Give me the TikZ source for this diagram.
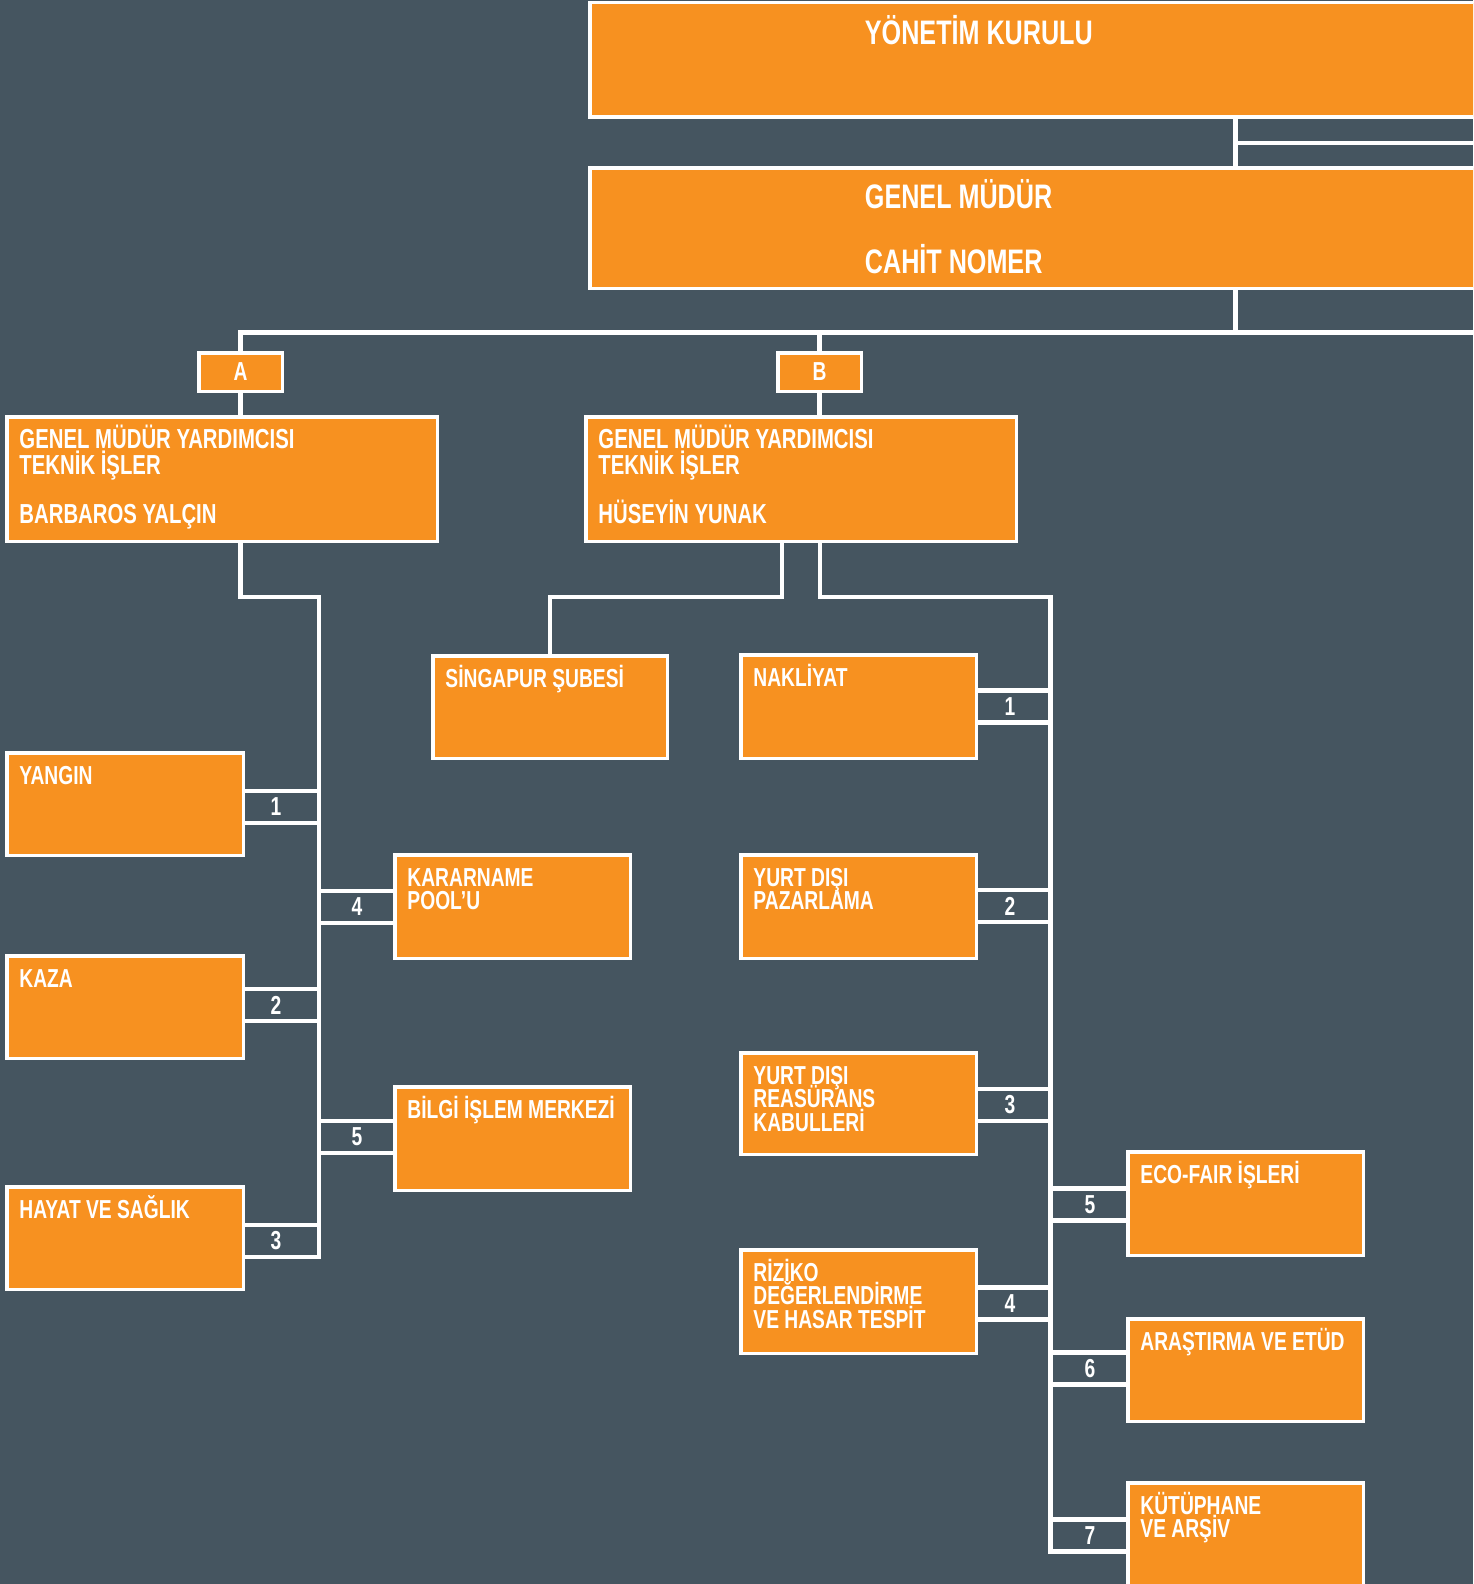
\documentclass[tikz,border=0pt]{standalone}
\usepackage{fontspec}
\newfontfamily\condf{Liberation Sans}[FakeStretch=0.74]
\definecolor{bgc}{RGB}{69,85,96}
\definecolor{org}{RGB}{247,145,32}
\pgfdeclarelayer{bgl}
\pgfdeclarelayer{lines}
\pgfsetlayers{bgl,lines,main}
\newcommand\mkbox[5]{\node[box, minimum width={#4-#2-3.5}, minimum height={#5-#3-3.5}] (#1) at ({(#2+#4)/2},{(#3+#5)/2}) {};}
\newcommand\tightpar[1]{\parbox[t]{420pt}{\lineskiplimit=-100pt\lineskip=0pt\raggedright #1}}
\newcommand\boxtxt[2]{\node[lbl] (#1-t) at ([shift={(12.5,31.5)}]#1.north west) {\tightpar{#2}};}
\newcommand\brk[6]{%
  \coordinate (#1-u) at (0,{#4-16});
  \coordinate (#1-d) at (0,{#4+16});
  \begin{pgfonlayer}{lines}
  \draw[conn] (#2 |- #1-u) -- (#3 |- #1-u);
  \draw[conn] (#2 |- #1-d) -- (#3 |- #1-d);
  \end{pgfonlayer}
  \node[num] (#1-n) at (#5,#4) {#6};}
\begin{document}
\begin{tikzpicture}[x=1pt,y=-1pt,
  box/.style={draw=white, fill=org, line width=3.5pt, inner sep=0pt, outer sep=0pt},
  conn/.style={draw=white, line width=4.5pt, line cap=rect},
  lbl/.style={text=white, inner sep=0pt, anchor=base west, font=\condf\bfseries\fontsize{26}{23.5}\selectfont},
  glbl/.style={lbl, font=\condf\bfseries\fontsize{27.5}{26.7}\selectfont},
  tlbl/.style={lbl, font=\condf\bfseries\fontsize{34}{34}\selectfont},
  num/.style={text=white, inner sep=0pt, font=\condf\bfseries\fontsize{26}{26}\selectfont},
]
\begin{pgfonlayer}{bgl}
\fill[bgc] (0,0) rectangle (1473,1584);
\end{pgfonlayer}
\useasboundingbox (0,0) rectangle (1473,1584);
\clip (0,0) rectangle (1473,1584);

% boxes
\mkbox{yk}{588}{1}{1500}{119}
\mkbox{gm}{588}{166}{1500}{290}
\mkbox{A}{197}{351}{284}{393}
\mkbox{B}{776}{351}{863}{393}
\mkbox{gmyA}{5}{415}{439}{543}
\mkbox{gmyB}{584}{415}{1018}{543}
\mkbox{sing}{431}{654}{669}{760}
\mkbox{nak}{739}{653}{978}{760}
\mkbox{yurt}{739}{853}{978}{960}
\mkbox{reas}{739}{1051}{978}{1156}
\mkbox{riz}{739}{1248}{978}{1355}
\mkbox{eco}{1126}{1150}{1365}{1257}
\mkbox{aras}{1126}{1317}{1365}{1423}
\mkbox{kut}{1126}{1481}{1365}{1595}
\mkbox{yan}{5}{751}{245}{857}
\mkbox{kaza}{5}{954}{245}{1060}
\mkbox{hay}{5}{1185}{245}{1291}
\mkbox{kar}{393}{853}{632}{960}
\mkbox{bil}{393}{1085}{632}{1192}

% texts
\node[tlbl] (yk-t) at ([shift={(275,42)}]yk.north west) {YÖNETİM KURULU};
\node[tlbl] (gm-t) at ([shift={(275,40.5)}]gm.north west) {\tightpar{GENEL MÜDÜR\\[31pt]CAHİT NOMER}};
\node[num] (A-t) at (A) {A};
\node[num] (B-t) at (B) {B};
\node[glbl] (gmyA-t) at ([shift={(12.5,31.5)}]gmyA.north west) {\tightpar{GENEL MÜDÜR YARDIMCISI\\TEKNİK İŞLER\\[22pt]BARBAROS YALÇIN}};
\node[glbl] (gmyB-t) at ([shift={(12.5,31.5)}]gmyB.north west) {\tightpar{GENEL MÜDÜR YARDIMCISI\\TEKNİK İŞLER\\[22pt]HÜSEYİN YUNAK}};
\boxtxt{sing}{SİNGAPUR ŞUBESİ}
\boxtxt{nak}{NAKLİYAT}
\boxtxt{yurt}{YURT DIŞI\\PAZARLAMA}
\boxtxt{reas}{YURT DIŞI\\REASÜRANS\\KABULLERİ}
\boxtxt{riz}{RİZİKO\\DEĞERLENDİRME\\VE HASAR TESPİT}
\boxtxt{eco}{ECO-FAIR İŞLERİ}
\boxtxt{aras}{ARAŞTIRMA VE ETÜD}
\boxtxt{kut}{KÜTÜPHANE\\VE ARŞİV}
\boxtxt{yan}{YANGIN}
\boxtxt{kaza}{KAZA}
\boxtxt{hay}{HAYAT VE SAĞLIK}
\boxtxt{kar}{KARARNAME\\POOL’U}
\boxtxt{bil}{BİLGİ İŞLEM MERKEZİ}

% trunk coordinates
\coordinate (gx) at (1235.5,0);
\coordinate (r1) at (1490,143);
\coordinate (hr) at (1490,332.5);
\coordinate (lt) at (319,0);
\coordinate (rt) at (1050.5,0);
\coordinate (jy) at (0,597);
\coordinate (bl) at (782,597);
\coordinate (br) at (820,597);

% brackets
\brk{l1}{yan.east}{lt}{807}{276}{1}
\brk{l2}{kaza.east}{lt}{1005}{276}{2}
\brk{l3}{hay.east}{lt}{1241}{276}{3}
\brk{l4}{kar.west}{lt}{907}{357}{4}
\brk{l5}{bil.west}{lt}{1137}{357}{5}
\brk{r1b}{nak.east}{rt}{706.5}{1010}{1}
\brk{r2b}{yurt.east}{rt}{906}{1010}{2}
\brk{r3b}{reas.east}{rt}{1105}{1010}{3}
\brk{r4b}{riz.east}{rt}{1303.5}{1010}{4}
\brk{r5b}{eco.west}{rt}{1204.5}{1090}{5}
\brk{r6b}{aras.west}{rt}{1368.5}{1090}{6}
\brk{r7b}{kut.west}{rt}{1535.5}{1090}{7}

\begin{pgfonlayer}{lines}
\draw[conn] (gx |- yk.south) -- (gx |- gm.north);
\draw[conn] (gx |- r1) -- (r1);
\draw[conn] (gx |- gm.south) -- (gx |- hr);
\draw[conn] (A.north) -- (A.north |- hr) -- (hr);
\draw[conn] (B.north) -- (B.north |- hr);
\draw[conn] (A.south) -- (A.south |- gmyA.north);
\draw[conn] (B.south) -- (B.south |- gmyB.north);
\draw[conn] (A.south |- gmyA.south) -- (A.south |- jy) -- (lt |- jy) -- (lt |- l3-d) -- (hay.east |- l3-d);
\draw[conn] (bl |- gmyB.south) -- (bl) -- (bl -| sing.north) -- (sing.north);
\draw[conn] (br |- gmyB.south) -- (br) -- (br -| rt) -- (rt |- r7b-d) -- (kut.west |- r7b-d);
\end{pgfonlayer}
\end{tikzpicture}
\end{document}
